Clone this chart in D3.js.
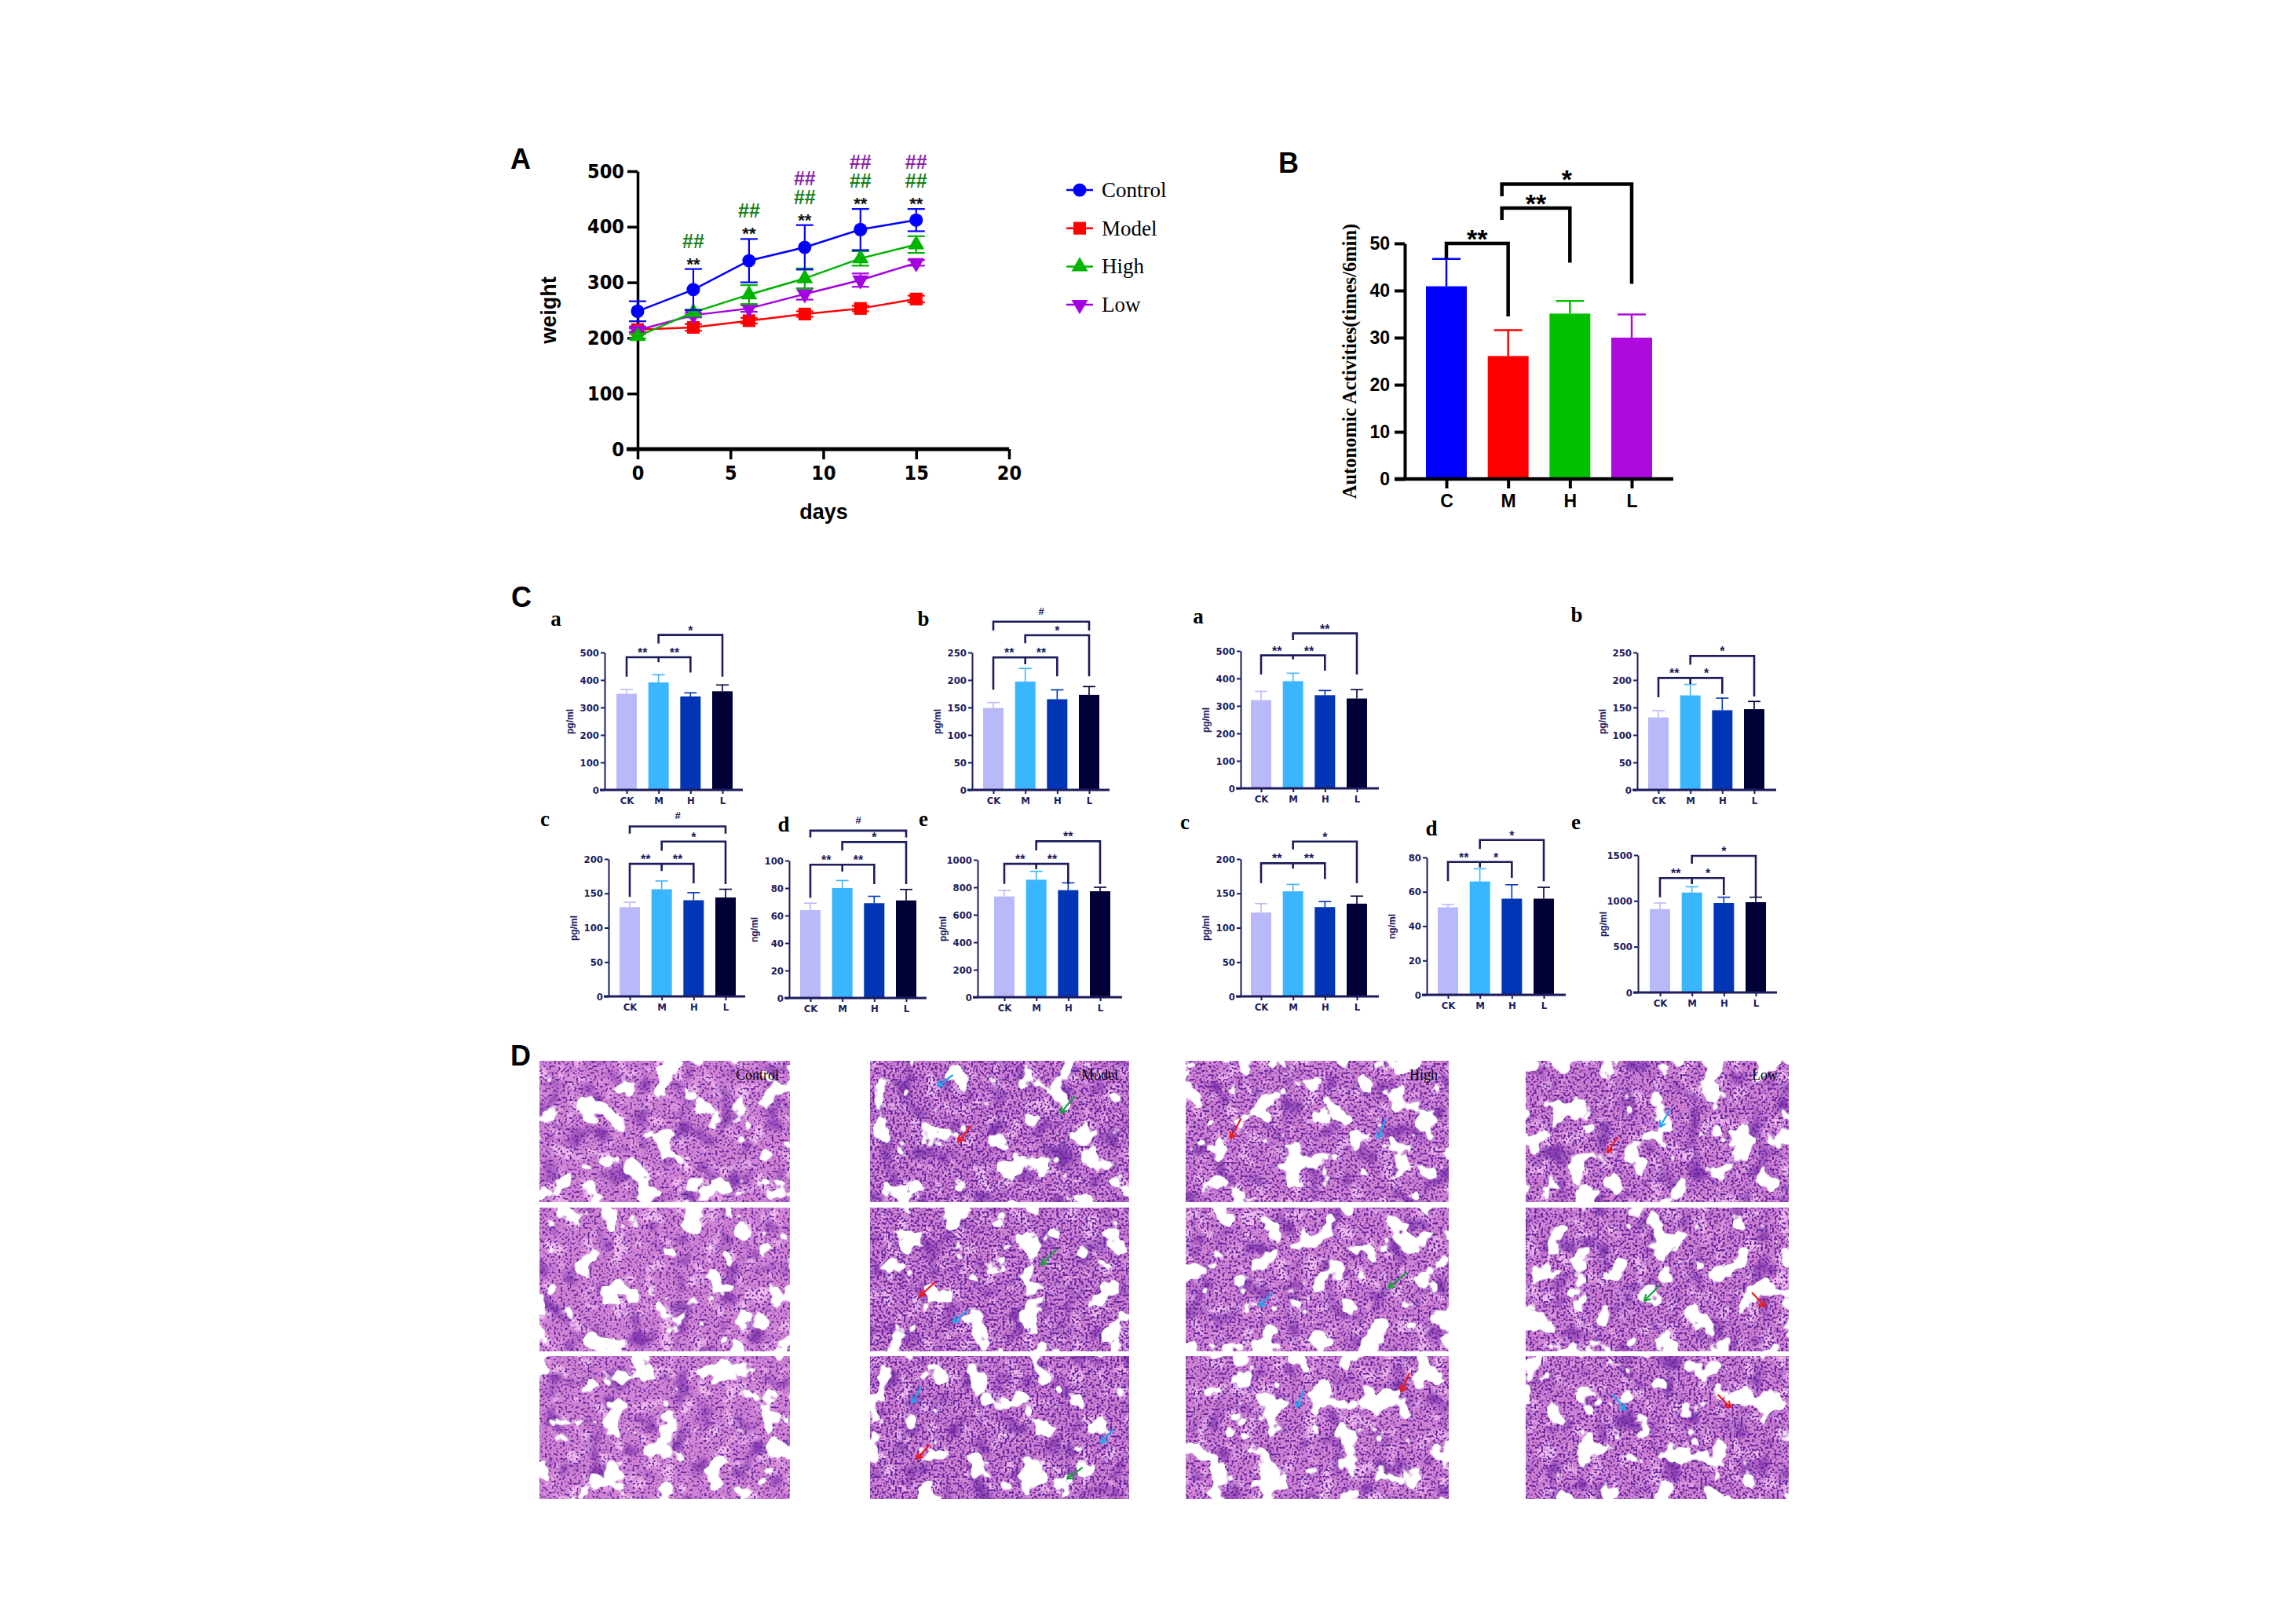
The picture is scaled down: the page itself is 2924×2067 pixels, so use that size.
<!DOCTYPE html>
<html lang="en">
<head>
<meta charset="UTF-8">
<title>Figure</title>
<script src="https://d3js.org/d3.v7.min.js"></script>
<style>
  body { margin: 0; background: #fff; }
  svg { display: block; }
</style>
</head>
<body>
<script>
// ---------- panel A : body weight ----------
var days = [0, 3, 6, 9, 12, 15];
var weightControl = [248, 287, 339, 363, 395, 412];
var weightControlSd = [18, 37, 39, 40, 37, 20];
var weightModel = [215, 219, 231, 243, 253, 270];
var weightModelSd = [5, 6, 5, 5, 5, 6];
var weightHigh = [203, 246, 278, 307, 343, 368];
var weightHighSd = [4, 5, 17, 18, 13, 15];
var weightLow = [214, 241, 253, 279, 304, 335];
var weightLowSd = [3, 4, 6, 10, 12, 5];
var weightNames = ["Control", "Model", "High", "Low"];
var weightTicksY = [0, 100, 200, 300, 400, 500];
var weightTicksX = [0, 5, 10, 15, 20];
var starDays = [3, 6, 9, 12, 15];      // ** control vs model
var hashHighDays = [3, 6, 9, 12, 15];  // ## high vs model
var hashLowDays = [9, 12, 15];         // ## low vs model

// ---------- panel B : autonomic activities ----------
var actGroups = ["C", "M", "H", "L"];
var actMean = [40.9, 26.1, 35.1, 30.0];
var actSd = [5.8, 5.5, 2.7, 4.9];
var actTicks = [0, 10, 20, 30, 40, 50];
// [from, to, level, left leg end, right leg end, label]
var actBrackets = [
  ["C", "M", 50, 46.7, 34.5, "**"],
  ["M", "H", 57.5, 55, 45.9, "**"],
  ["M", "L", 62.6, 60, 41.4, "*"]
];

// ---------- panel C : cytokines ----------
var cytoGroups = ["CK", "M", "H", "L"];
var cytoLetters = ["a", "b", "a", "b", "c", "d", "e", "c", "d", "e"];
var cytoUnits = ["pg/ml", "pg/ml", "pg/ml", "pg/ml", "pg/ml", "ng/ml", "pg/ml", "pg/ml", "ng/ml", "pg/ml"];
var cytoMax = [500, 250, 500, 250, 200, 100, 1000, 200, 80, 1500];
var cytoStep = [100, 50, 100, 50, 50, 20, 200, 50, 20, 500];
var cytoMean = [
  [350, 391, 340, 359], [149, 197, 165, 173], [321, 390, 339, 327], [132, 172, 145, 147],
  [130, 156, 140, 144], [64, 80, 69, 71], [733, 855, 779, 771],
  [122, 153, 130, 135], [51, 66, 56, 56], [911, 1091, 977, 986]
];
var cytoSd = [
  [15, 28, 13, 23], [10, 24, 17, 15], [32, 29, 17, 32], [12, 20, 22, 14],
  [7, 12, 11, 12], [5, 5.5, 5, 8], [44, 61, 53, 29],
  [13, 10, 8, 11], [1.6, 7.4, 8.1, 6.6], [66, 63, 63, 54]
];
// CK-M-H bracket: [level, CK leg end, M tick end, H leg end]
var cytoTri = [
  [483, 412, 465, 427], [241, 182, 228.5, 206.7], [484, 414, 469, 428], [203.8, 168.6, 193, 174.8],
  [193, 145, 182.5, 164.6], [97, 72.9, 92, 82.8], [971, 824, 931, 824],
  [193.9, 165, 186, 171], [77.4, 66.2, 74.2, 68.1], [1249, 1040, 1183, 1063]
];
var cytoTriLabels = [
  ["**", "**"], ["**", "**"], ["**", "**"], ["**", "*"], ["**", "**"], ["**", "**"], ["**", "**"],
  ["**", "**"], ["**", "*"], ["**", "*"]
];
// M-L bracket: [level, M leg end, L leg end]
var cytoML = [
  [564, 533, 412], [281.4, 266.7, 206.7], [564, 540, 414], [243.8, 228, 170],
  [225.5, 212, 163.5], [113.5, 107.3, 82.8], [1135, 1069, 824],
  [225.5, 214, 165], [90.2, 84.9, 66.2], [1491, 1406, 1040]
];
var cytoMLLabel = ["*", "*", "**", "*", "*", "*", "**", "*", "*", "*"];
// CK-L bracket (#): [level, leg end] or null
var cytoCKL = [null, [306, 290], null, null, [247.5, 236.9], [121.8, 116.8], null, null, null, null];

// ---------- panel D : lung HE sections ----------
var heGroups = ["Control", "Model", "High", "Low"];
var heArrows = [
  // group, row, colour, head x, head y, tail x, tail y (fraction of image)
  ["Model", 0, "blue", 0.26, 0.18, 0.32, 0.10],
  ["Model", 0, "green", 0.735, 0.37, 0.79, 0.25],
  ["Model", 0, "red", 0.34, 0.575, 0.39, 0.46],
  ["High", 0, "red", 0.17, 0.55, 0.21, 0.41],
  ["High", 0, "blue", 0.73, 0.55, 0.76, 0.41],
  ["Low", 0, "blue", 0.51, 0.47, 0.55, 0.34],
  ["Low", 0, "red", 0.31, 0.65, 0.35, 0.54],
  ["Model", 1, "green", 0.66, 0.40, 0.72, 0.29],
  ["Model", 1, "red", 0.19, 0.62, 0.25, 0.52],
  ["Model", 1, "blue", 0.32, 0.80, 0.38, 0.71],
  ["High", 1, "green", 0.77, 0.56, 0.84, 0.45],
  ["High", 1, "blue", 0.28, 0.69, 0.33, 0.59],
  ["Low", 1, "green", 0.45, 0.65, 0.51, 0.54],
  ["Low", 1, "red", 0.91, 0.69, 0.86, 0.59],
  ["Model", 2, "blue", 0.16, 0.33, 0.20, 0.21],
  ["Model", 2, "blue", 0.89, 0.61, 0.94, 0.51],
  ["Model", 2, "red", 0.18, 0.72, 0.23, 0.62],
  ["Model", 2, "green", 0.76, 0.86, 0.82, 0.78],
  ["High", 2, "blue", 0.42, 0.36, 0.45, 0.24],
  ["High", 2, "red", 0.82, 0.25, 0.85, 0.12],
  ["Low", 2, "blue", 0.38, 0.38, 0.33, 0.27],
  ["Low", 2, "red", 0.78, 0.36, 0.73, 0.27]
];

var W = 2924, H = 2067;
var narrow = "'Liberation Sans Narrow','Arial Narrow','DejaVu Sans Condensed',sans-serif";
var sans = "'Liberation Sans',Arial,sans-serif";
var serif = "'Liberation Serif','Times New Roman',serif";

var svg = d3.select("body").append("svg").attr("width", W).attr("height", H);
svg.append("rect").attr("width", W).attr("height", H).attr("fill", "#fff");
var defs = svg.append("defs");

function panelLabel(t, x, y) {
  svg.append("text").attr("x", x).attr("y", y).text(t)
    .attr("font-family", sans).attr("font-weight", "bold").attr("font-size", 36)
    .attr("text-anchor", "middle").attr("fill", "#000");
}

function styleAxis(sel, color, width, fontSize, font) {
  sel.select(".domain").attr("stroke", color).attr("stroke-width", width);
  sel.selectAll(".tick line").attr("stroke", color).attr("stroke-width", width);
  sel.selectAll(".tick text").attr("fill", color).attr("font-family", font)
    .attr("font-weight", "bold").attr("font-size", fontSize);
}

// ================= A =================
panelLabel("A", 663, 215);
var ax = d3.scaleLinear().domain([0, 20]).range([812, 1285]);
var ay = d3.scaleLinear().domain([0, 500]).range([572, 218]);
var gA = svg.append("g");

gA.append("g").attr("transform", "translate(812,0)")
  .call(d3.axisLeft(ay).tickValues(weightTicksY).tickSize(13).tickSizeOuter(0).tickPadding(4))
  .call(styleAxis, "#000", 3.5, 25, narrow);
var xAxA = gA.append("g").attr("transform", "translate(0,572)")
  .call(d3.axisBottom(ax).tickValues(weightTicksX).tickSize(13).tickSizeOuter(0).tickPadding(8))
  .call(styleAxis, "#000", 3.5, 25, narrow);
xAxA.select(".domain").remove();
gA.append("line").attr("x1", 798).attr("x2", ax(20)).attr("y1", 572).attr("y2", 572)
  .attr("stroke", "#000").attr("stroke-width", 5);

gA.append("text").attr("transform", "translate(708,395) rotate(-90)").attr("text-anchor", "middle")
  .attr("font-family", sans).attr("font-weight", "bold").attr("font-size", 27).text("weight");
gA.append("text").attr("x", 1049).attr("y", 661).attr("text-anchor", "middle")
  .attr("font-family", sans).attr("font-weight", "bold").attr("font-size", 27).text("days");

var weightSeries = [
  { name: "Control", mean: weightControl, sd: weightControlSd, color: "#0000ff", sym: d3.symbolCircle, size: 230, rot: 0 },
  { name: "Model", mean: weightModel, sd: weightModelSd, color: "#ff0000", sym: d3.symbolSquare, size: 260, rot: 0 },
  { name: "High", mean: weightHigh, sd: weightHighSd, color: "#00b400", sym: d3.symbolTriangle, size: 190, rot: 0 },
  { name: "Low", mean: weightLow, sd: weightLowSd, color: "#a400e0", sym: d3.symbolTriangle, size: 190, rot: 180 }
];
var lineA = d3.line().x(function (d, i) { return ax(days[i]); }).y(function (d) { return ay(d); });
var drawOrder = [1, 3, 2, 0];
drawOrder.forEach(function (k) {
  var s = weightSeries[k];
  var g = gA.append("g");
  g.append("path").datum(s.mean).attr("d", lineA).attr("fill", "none")
    .attr("stroke", s.color).attr("stroke-width", 2.5);
  var eb = g.selectAll("g.eb").data(s.mean).enter().append("g");
  eb.append("line").attr("x1", function (d, i) { return ax(days[i]); }).attr("x2", function (d, i) { return ax(days[i]); })
    .attr("y1", function (d, i) { return ay(d - s.sd[i]); }).attr("y2", function (d, i) { return ay(d + s.sd[i]); })
    .attr("stroke", s.color).attr("stroke-width", 2.2);
  [-1, 1].forEach(function (sg) {
    eb.append("line").attr("x1", function (d, i) { return ax(days[i]) - 11; }).attr("x2", function (d, i) { return ax(days[i]) + 11; })
      .attr("y1", function (d, i) { return ay(d + sg * s.sd[i]); }).attr("y2", function (d, i) { return ay(d + sg * s.sd[i]); })
      .attr("stroke", s.color).attr("stroke-width", 2.2);
  });
  g.selectAll("path.pt").data(s.mean).enter().append("path").attr("class", "pt")
    .attr("d", d3.symbol().type(s.sym).size(s.size))
    .attr("transform", function (d, i) { return "translate(" + ax(days[i]) + "," + ay(d) + ") rotate(" + s.rot + ")"; })
    .attr("fill", s.color);
});

// significance marks above the Control error bars
function ctrlTop(day) {
  var i = days.indexOf(day);
  return ay(weightControl[i] + weightControlSd[i]);
}
gA.selectAll("text.st").data(starDays).enter().append("text")
  .attr("x", function (d) { return ax(d); }).attr("y", function (d) { return ctrlTop(d) + 1; })
  .attr("text-anchor", "middle").attr("font-family", sans).attr("font-weight", "bold").attr("font-size", 22)
  .attr("fill", "#111").text("**");
gA.selectAll("text.hh").data(hashHighDays).enter().append("text")
  .attr("x", function (d) { return ax(d); }).attr("y", function (d) { return ctrlTop(d) - 27; })
  .attr("text-anchor", "middle").attr("font-family", sans).attr("font-weight", "bold").attr("font-size", 25)
  .attr("fill", "#17801a").text("##");
gA.selectAll("text.hl").data(hashLowDays).enter().append("text")
  .attr("x", function (d) { return ax(d); }).attr("y", function (d) { return ctrlTop(d) - 51; })
  .attr("text-anchor", "middle").attr("font-family", sans).attr("font-weight", "bold").attr("font-size", 25)
  .attr("fill", "#8a22a8").text("##");

// legend
var leg = gA.selectAll("g.leg").data(weightSeries).enter().append("g")
  .attr("transform", function (d, i) { return "translate(1375," + (242 + i * 48.7) + ")"; });
leg.append("line").attr("x1", -17).attr("x2", 17).attr("stroke", function (d) { return d.color; }).attr("stroke-width", 2.5);
leg.append("path").attr("d", function (d) { return d3.symbol().type(d.sym).size(d.size)(); })
  .attr("transform", function (d) { return "rotate(" + d.rot + ")"; }).attr("fill", function (d) { return d.color; });
leg.append("text").attr("x", 28).attr("y", 9).attr("font-family", serif).attr("font-size", 27)
  .text(function (d) { return d.name; });

// ================= B =================
panelLabel("B", 1641, 220);
var actColors = ["#0000ff", "#ff0000", "#00c000", "#ae0ae0"];
var by = d3.scaleLinear().domain([0, 50]).range([610, 310]);
var bx = d3.scalePoint().domain(actGroups).range([1842, 2078]);
var gB = svg.append("g");
var bw = 52;
gB.selectAll("rect").data(actMean).enter().append("rect")
  .attr("x", function (d, i) { return bx(actGroups[i]) - bw / 2; }).attr("width", bw)
  .attr("y", function (d) { return by(d); }).attr("height", function (d) { return by(0) - by(d); })
  .attr("fill", function (d, i) { return actColors[i]; });
var ebB = gB.selectAll("g.eb").data(actMean).enter().append("g");
ebB.append("line").attr("x1", function (d, i) { return bx(actGroups[i]); }).attr("x2", function (d, i) { return bx(actGroups[i]); })
  .attr("y1", function (d) { return by(d); }).attr("y2", function (d, i) { return by(d + actSd[i]); })
  .attr("stroke", function (d, i) { return actColors[i]; }).attr("stroke-width", 2.5);
ebB.append("line").attr("x1", function (d, i) { return bx(actGroups[i]) - 18; }).attr("x2", function (d, i) { return bx(actGroups[i]) + 18; })
  .attr("y1", function (d, i) { return by(d + actSd[i]); }).attr("y2", function (d, i) { return by(d + actSd[i]); })
  .attr("stroke", function (d, i) { return actColors[i]; }).attr("stroke-width", 2.5);

gB.append("g").attr("transform", "translate(1789,0)")
  .call(d3.axisLeft(by).tickValues(actTicks).tickSize(13).tickSizeOuter(0).tickPadding(6))
  .call(styleAxis, "#000", 4, 23, sans);
var xAxB = gB.append("g").attr("transform", "translate(0,610)")
  .call(d3.axisBottom(bx).tickSize(12).tickSizeOuter(0).tickPadding(8))
  .call(styleAxis, "#000", 4, 23, sans);
xAxB.select(".domain").remove();
gB.append("line").attr("x1", 1776).attr("x2", 2131).attr("y1", 610).attr("y2", 610)
  .attr("stroke", "#000").attr("stroke-width", 4.5);
gB.append("text").attr("transform", "translate(1727,460) rotate(-90)").attr("text-anchor", "middle")
  .attr("font-family", serif).attr("font-weight", "bold").attr("font-size", 24.5)
  .text("Autonomic Activities(times/6min)");

actBrackets.forEach(function (b) {
  var xa = bx(b[0]) + (b[0] === "M" ? -8 : 0), xb = bx(b[1]);
  gB.append("path")
    .attr("d", "M" + xa + "," + by(b[3]) + "V" + by(b[2]) + "H" + xb + "V" + by(b[4]))
    .attr("fill", "none").attr("stroke", "#000").attr("stroke-width", 4.5);
  gB.append("text").attr("x", (xa + xb) / 2).attr("y", by(b[2]) + 6).attr("text-anchor", "middle")
    .attr("font-family", sans).attr("font-weight", "bold").attr("font-size", 34).text(b[5]);
});

// ================= C =================
panelLabel("C", 664, 773);
var cytoColors = ["#b9b9fa", "#3ab6ff", "#0035b6", "#000036"];
var navy = "#1c1c5e";
var cytoLayout = [
  { x: 770, y: 831, off: 28, end: 176, lx: 708, ly: 788 },
  { x: 1238, y: 831, off: 27, end: 175, lx: 1176, ly: 788 },
  { x: 1580, y: 829, off: 26, end: 176, lx: 1526, ly: 785 },
  { x: 2085, y: 831, off: 27, end: 177, lx: 2008, ly: 783 },
  { x: 775, y: 1094, off: 27, end: 174, lx: 694, ly: 1043 },
  { x: 1005, y: 1096, off: 27, end: 175, lx: 998, ly: 1050 },
  { x: 1245, y: 1095, off: 34, end: 184, lx: 1176, ly: 1043 },
  { x: 1580, y: 1094, off: 26, end: 176, lx: 1509, ly: 1047 },
  { x: 1817, y: 1092, off: 27, end: 177, lx: 1823, ly: 1055 },
  { x: 2086, y: 1089, off: 28, end: 177, lx: 2007, ly: 1047 }
];

function drawCyto(i) {
  var L = cytoLayout[i];
  var g = svg.append("g");
  var y = d3.scaleLinear().domain([0, cytoMax[i]]).range([L.y + 175, L.y]);
  var x = d3.scalePoint().domain(cytoGroups).range([L.x + L.off, L.x + L.off + 122]);
  var w = 26;
  var mean = cytoMean[i], sd = cytoSd[i];

  g.selectAll("rect").data(mean).enter().append("rect")
    .attr("x", function (d, j) { return x(cytoGroups[j]) - w / 2; }).attr("width", w)
    .attr("y", function (d) { return y(d); }).attr("height", function (d) { return y(0) - y(d); })
    .attr("fill", function (d, j) { return cytoColors[j]; });
  var eb = g.selectAll("g.eb").data(mean).enter().append("g");
  eb.append("line").attr("x1", function (d, j) { return x(cytoGroups[j]); }).attr("x2", function (d, j) { return x(cytoGroups[j]); })
    .attr("y1", function (d) { return y(d); }).attr("y2", function (d, j) { return y(d + sd[j]); })
    .attr("stroke", function (d, j) { return cytoColors[j]; }).attr("stroke-width", 1.6);
  eb.append("line").attr("x1", function (d, j) { return x(cytoGroups[j]) - 8; }).attr("x2", function (d, j) { return x(cytoGroups[j]) + 8; })
    .attr("y1", function (d, j) { return y(d + sd[j]); }).attr("y2", function (d, j) { return y(d + sd[j]); })
    .attr("stroke", function (d, j) { return cytoColors[j]; }).attr("stroke-width", 1.6);

  g.append("g").attr("transform", "translate(" + L.x + ",0)")
    .call(d3.axisLeft(y).tickValues(d3.range(0, cytoMax[i] + 1e-9, cytoStep[i]))
      .tickFormat(d3.format("d")).tickSize(5).tickSizeOuter(0).tickPadding(2))
    .call(styleAxis, navy, 2, 13, narrow);
  var xa = g.append("g").attr("transform", "translate(0," + y(0) + ")")
    .call(d3.axisBottom(x).tickSize(5).tickSizeOuter(0).tickPadding(4))
    .call(styleAxis, navy, 2, 13, narrow);
  xa.select(".domain").remove();
  g.append("line").attr("x1", L.x - 6).attr("x2", L.x + L.end).attr("y1", y(0)).attr("y2", y(0))
    .attr("stroke", navy).attr("stroke-width", 3);

  g.append("text").attr("transform", "translate(" + (L.x - 40) + "," + (L.y + 88) + ") rotate(-90)")
    .attr("text-anchor", "middle").attr("font-family", sans).attr("font-weight", "bold")
    .attr("font-size", 12).attr("fill", navy).text(cytoUnits[i]);
  g.append("text").attr("x", L.lx).attr("y", L.ly + 9).attr("text-anchor", "middle")
    .attr("font-family", serif).attr("font-weight", "bold").attr("font-size", 27).text(cytoLetters[i]);

  function bracket(d) {
    g.append("path").attr("d", d).attr("fill", "none").attr("stroke", navy).attr("stroke-width", 2.6);
  }
  function mark(t, cx, lv, sz, dy) {
    g.append("text").attr("x", cx).attr("y", y(lv) + dy).attr("text-anchor", "middle")
      .attr("font-family", sans).attr("font-weight", "bold").attr("font-size", sz).attr("fill", navy).text(t);
  }
  var xc = x("CK"), xm = x("M"), xh = x("H"), xl = x("L");
  var t = cytoTri[i];
  bracket("M" + xc + "," + y(t[1]) + "V" + y(t[0]) + "H" + xh + "V" + y(t[3]) +
          "M" + xm + "," + y(t[0]) + "V" + y(t[2]));
  mark(cytoTriLabels[i][0], (xc + xm) / 2, t[0], 16, 0);
  mark(cytoTriLabels[i][1], (xm + xh) / 2, t[0], 16, 0);
  var m = cytoML[i];
  bracket("M" + xm + "," + y(m[1]) + "V" + y(m[0]) + "H" + xl + "V" + y(m[2]));
  mark(cytoMLLabel[i], (xm + xl) / 2, m[0], 16, 0);
  var c = cytoCKL[i];
  if (c) {
    bracket("M" + xc + "," + y(c[1]) + "V" + y(c[0]) + "H" + xl + "V" + y(c[1]));
    mark("#", (xc + xl) / 2, c[0], 13, -9);
  }
}
for (var ci = 0; ci < cytoMean.length; ci++) drawCyto(ci);

// ================= D =================
panelLabel("D", 663, 1357);
var heColX = [687, 1108, 1510, 1943];
var heColW = [319, 330, 335, 335];
var heRowY = [1351, 1538, 1727];
var heRowH = [180, 183, 182];
var heHole = [0.6, 0.615, 0.59, 0.6];
var heNuc = [0.53, 0.48, 0.5, 0.49];
var arrowColors = { blue: "#22a6ee", green: "#17a03a", red: "#ee1a1a" };

function tissueFilter(id, bx0, by0, bw0, bh0, seed, holeT, nucT) {
  var f = defs.append("filter").attr("id", id).attr("filterUnits", "userSpaceOnUse")
    .attr("x", bx0).attr("y", by0).attr("width", bw0).attr("height", bh0)
    .attr("color-interpolation-filters", "sRGB");
  f.append("feFlood").attr("flood-color", "#d184d4").attr("result", "base");
  f.append("feTurbulence").attr("type", "fractalNoise").attr("baseFrequency", 0.05)
    .attr("numOctaves", 2).attr("seed", seed + 3).attr("result", "mid");
  f.append("feColorMatrix").attr("in", "mid").attr("type", "matrix")
    .attr("values", "0 0 0 0 0.95  0 0 0 0 0.74  0 0 0 0 0.94  5 0 0 0 -2.6").attr("result", "light");
  f.append("feTurbulence").attr("type", "fractalNoise").attr("baseFrequency", 0.035)
    .attr("numOctaves", 2).attr("seed", seed + 21).attr("result", "dense");
  f.append("feColorMatrix").attr("in", "dense").attr("type", "matrix")
    .attr("values", "0 0 0 0 0.55  0 0 0 0 0.25  0 0 0 0 0.7  4 0 0 0 -2.2").attr("result", "dark");
  f.append("feTurbulence").attr("type", "fractalNoise").attr("baseFrequency", 0.35)
    .attr("numOctaves", 1).attr("seed", seed).attr("result", "fine");
  f.append("feColorMatrix").attr("in", "fine").attr("type", "matrix")
    .attr("values", "0 0 0 0 0.40  0 0 0 0 0.15  0 0 0 0 0.62  7 0 0 0 " + (-7 * nucT)).attr("result", "nuc");
  f.append("feTurbulence").attr("type", "fractalNoise").attr("baseFrequency", 0.03)
    .attr("numOctaves", 3).attr("seed", seed + 11).attr("result", "coarse");
  f.append("feColorMatrix").attr("in", "coarse").attr("type", "matrix")
    .attr("values", "0 0 0 0 1  0 0 0 0 1  0 0 0 0 1  25 0 0 0 " + (-25 * holeT)).attr("result", "holes");
  var mg = f.append("feMerge");
  ["base", "light", "dark", "nuc", "holes"].forEach(function (n) { mg.append("feMergeNode").attr("in", n); });
}

var gD = svg.append("g");
heGroups.forEach(function (grp, c) {
  heRowY.forEach(function (ry, r) {
    var id = "he" + c + "_" + r;
    tissueFilter(id, heColX[c], ry, heColW[c], heRowH[r], 5 + c * 17 + r * 5, heHole[c], heNuc[c]);
    gD.append("rect").attr("x", heColX[c]).attr("y", ry).attr("width", heColW[c]).attr("height", heRowH[r])
      .attr("fill", "#d486d6").attr("filter", "url(#" + id + ")");
  });
  gD.append("text").attr("x", heColX[c] + heColW[c] - 14).attr("y", heRowY[0] + 24)
    .attr("text-anchor", "end").attr("font-family", serif).attr("font-size", 18).text(grp);
});

heArrows.forEach(function (a) {
  var c = heGroups.indexOf(a[0]), r = a[1];
  var x0 = heColX[c], y0 = heRowY[r], w0 = heColW[c], h0 = heRowH[r];
  var col = arrowColors[a[2]];
  var hx = x0 + a[3] * w0, hy = y0 + a[4] * h0, tx = x0 + a[5] * w0, ty = y0 + a[6] * h0;
  gD.append("line").attr("x1", tx).attr("y1", ty).attr("x2", hx).attr("y2", hy)
    .attr("stroke", col).attr("stroke-width", 2.2);
  var ang = Math.atan2(hy - ty, hx - tx);
  [-0.5, 0.5].forEach(function (da) {
    gD.append("line").attr("x1", hx).attr("y1", hy)
      .attr("x2", hx - 9 * Math.cos(ang + da)).attr("y2", hy - 9 * Math.sin(ang + da))
      .attr("stroke", col).attr("stroke-width", 2.2);
  });
});
</script>
</body>
</html>
